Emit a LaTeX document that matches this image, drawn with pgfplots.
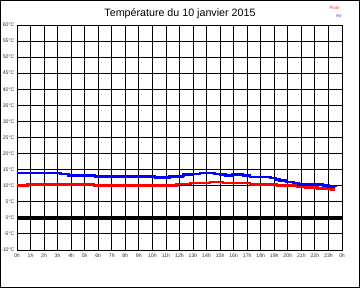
\documentclass[border=0pt]{standalone}
\usepackage{pgfplots}
\pgfplotsset{compat=1.18}
\usepackage{fontspec}
\setmainfont{Liberation Sans}
\begin{document}
\begin{tikzpicture}[x=1pt,y=1pt]
\useasboundingbox (0,0) rectangle (360,288);
\draw[black,line width=1pt] (0.5,0.5) rectangle (359.5,287.5);
\node[font=\fontsize{10.7}{12}\selectfont,anchor=center] at (180,274) {Température du 10 janvier 2015};
\node[font=\fontsize{4.6}{5}\selectfont,text=red!75,anchor=center,inner sep=0pt] at (334.5,280.5) {Plate};
\node[font=\fontsize{4.6}{5}\selectfont,text=blue!75,anchor=center,inner sep=0pt] at (339,272.5) {Air};
\begin{axis}[
  at={(17pt,38pt)}, anchor=south west,
  scale only axis, width=325pt, height=225pt,
  xmin=0, xmax=24, ymin=-10, ymax=60,
  xtick={0,...,24},
  xticklabels={0h,1h,2h,3h,4h,5h,6h,7h,8h,9h,10h,11h,12h,13h,14h,15h,16h,17h,18h,19h,20h,21h,22h,23h,0h},
  ytick={-10,-5,...,60},
  yticklabels={-10°C,-5°C,0°C,5°C,10°C,15°C,20°C,25°C,30°C,35°C,40°C,45°C,50°C,55°C,60°C},
  tick label style={font=\fontsize{5.2}{6}\selectfont,text=black!80},
  xticklabel style={yshift=-0.5pt},
  yticklabel style={xshift=1pt},
  major tick length=0pt,
  grid=major,
  grid style={black,line width=0.9pt},
  axis line style={black,line width=0.9pt},
  clip=true,
]
\addplot[black,line width=4pt] coordinates {(0,0) (24,0)};
% Plate (red)
\addplot[red,line width=2.6pt,const plot] coordinates {
(0,10.0) (0.79,10.4) (5.7,10.0) (11.8,10.5) (12.8,10.8) (14.25,11.1) (15.2,10.8)
(17.2,10.4) (19.2,10.1) (20.7,9.8) (21.3,9.5) (22.2,9.2) (23.2,8.9) (23.5,8.9)};
% Air (blue)
\addplot[blue,line width=2.6pt,const plot] coordinates {
(0,14.0) (3.2,13.6) (3.8,13.2) (5.76,12.9) (10.2,12.6) (11.25,12.9) (12.2,13.0)
(12.3,13.4) (13.0,13.6) (13.5,13.9) (14.6,13.7) (15.0,13.4) (15.4,13.1) (15.9,13.4)
(16.7,13.1) (17.2,12.7) (18.7,12.4) (19.1,12.0) (19.4,11.6) (19.9,11.1) (20.4,10.8)
(20.8,10.4) (22.6,10.1) (23.0,9.8) (23.5,9.5)};
\end{axis}
\end{tikzpicture}
\end{document}
